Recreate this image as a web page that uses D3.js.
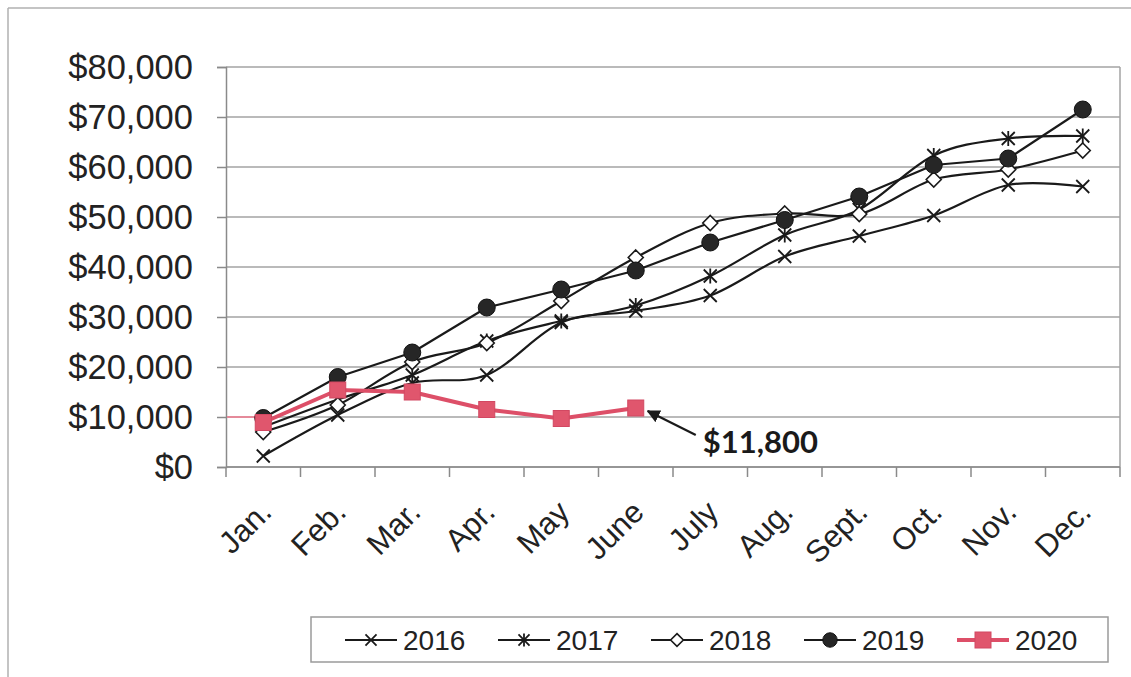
<!DOCTYPE html>
<html>
<head>
<meta charset="utf-8">
<script src="https://cdn.jsdelivr.net/npm/d3@7"></script>
<style>
  html, body { margin: 0; padding: 0; background: #fff; }
  svg { display: block; }
</style>
</head>
<body>
<svg id="chart" width="1131" height="677"></svg>
<script>
const months = ["Jan.", "Feb.", "Mar.", "Apr.", "May", "June", "July", "Aug.", "Sept.", "Oct.", "Nov.", "Dec."];
const yTicks = [0, 10000, 20000, 30000, 40000, 50000, 60000, 70000, 80000];
const s2016 = [2200, 10400, 16800, 18400, 28900, 31200, 34300, 42100, 46200, 50300, 56400, 56100];
const s2017 = [8000, 13500, 18400, 25200, 29200, 32300, 38200, 46400, 51500, 62300, 65700, 66200];
const s2018 = [7000, 12400, 21000, 24800, 33200, 41900, 48800, 50700, 50600, 57500, 59500, 63300];
const s2019 = [9800, 18000, 22900, 31900, 35500, 39300, 44900, 49400, 54100, 60400, 61700, 71500];
const s2020 = [8900, 15400, 15000, 11500, 9700, 11800];
const seriesNames = ["2016", "2017", "2018", "2019", "2020"];
const annotationText = "$11,800";

const svg = d3.select("#chart");
const W = 1131, H = 677;
const plot = { left: 226, right: 1120, top: 67, bottom: 467 };

const x = d3.scaleBand().domain(months).range([plot.left, plot.right]).padding(0);
const y = d3.scaleLinear().domain([0, 80000]).range([plot.bottom, plot.top]);
const cx = m => x(m) + x.bandwidth() / 2;

const gridColor = "#a3a3a3";
const pink = "#dd4f68";

// outer frame (top and left edges visible)
svg.append("line").attr("x1", 8).attr("x2", W).attr("y1", 8).attr("y2", 8).attr("stroke", "#b0b0b0").attr("stroke-width", 1.5);
svg.append("line").attr("x1", 8).attr("x2", 8).attr("y1", 8).attr("y2", H).attr("stroke", "#b0b0b0").attr("stroke-width", 1.5);

// gridlines
const gGrid = svg.append("g");
gGrid.selectAll("line").data(yTicks).join("line")
  .attr("x1", plot.left).attr("x2", plot.right)
  .attr("y1", d => y(d)).attr("y2", d => y(d))
  .attr("stroke", gridColor).attr("stroke-width", 1.5);
// right border
svg.append("line").attr("x1", plot.right).attr("x2", plot.right).attr("y1", plot.top).attr("y2", plot.bottom)
  .attr("stroke", gridColor).attr("stroke-width", 1.5);

// y axis
const yAxis = d3.axisLeft(y).tickValues(yTicks).tickSize(9).tickPadding(24)
  .tickFormat(d => "$" + d3.format(",")(d));
const gy = svg.append("g").attr("transform", `translate(${plot.left},0)`).call(yAxis);
gy.select(".domain").attr("stroke", "#8a8a8a").attr("stroke-width", 1.5);
gy.selectAll(".tick line").attr("stroke", "#8a8a8a").attr("stroke-width", 1.5);
gy.selectAll(".tick text")
  .attr("font-family", "'Liberation Sans', Arial, sans-serif")
  .attr("font-size", 34.5).attr("fill", "#222");

// x axis (ticks at category boundaries)
const gx = svg.append("g").attr("transform", `translate(0,${plot.bottom})`);
gx.append("line").attr("x1", plot.left).attr("x2", plot.right).attr("stroke", "#8a8a8a").attr("stroke-width", 1.5);
const boundaries = months.map(m => x(m)).concat([plot.right]);
gx.selectAll("line.tk").data(boundaries).join("line").attr("class", "tk")
  .attr("x1", d => d).attr("x2", d => d).attr("y1", 0).attr("y2", 10)
  .attr("stroke", "#8a8a8a").attr("stroke-width", 1.5);
gx.selectAll("text").data(months).join("text")
  .attr("transform", d => `translate(${cx(d) + 10},${47}) rotate(-45)`)
  .attr("text-anchor", "end")
  .attr("font-family", "'Liberation Sans', Arial, sans-serif")
  .attr("font-size", 31).attr("fill", "#222")
  .text(d => d);

// marker drawing helpers
function drawMarker(g, type, px, py, scale = 1) {
  const s = 6.5 * scale;
  if (type === "x" || type === "star") {
    g.append("path").attr("d", `M${px - s},${py - s}L${px + s},${py + s}M${px - s},${py + s}L${px + s},${py - s}`)
      .attr("stroke", "#1a1a1a").attr("stroke-width", 1.8).attr("fill", "none");
    if (type === "star") {
      g.append("path").attr("d", `M${px},${py - s - 1}L${px},${py + s + 1}`)
        .attr("stroke", "#1a1a1a").attr("stroke-width", 1.8);
    }
  } else if (type === "diamond") {
    const d = 7.5 * scale;
    g.append("path").attr("d", `M${px},${py - d}L${px + d},${py}L${px},${py + d}L${px - d},${py}Z`)
      .attr("fill", "#fff").attr("stroke", "#1a1a1a").attr("stroke-width", 1.6);
  } else if (type === "circle") {
    g.append("circle").attr("cx", px).attr("cy", py).attr("r", 8.5 * scale)
      .attr("fill", "#262626").attr("stroke", "#111").attr("stroke-width", 1);
  } else if (type === "square") {
    const d = 8 * scale;
    g.append("rect").attr("x", px - d).attr("y", py - d).attr("width", 2 * d).attr("height", 2 * d)
      .attr("fill", "#e0566d").attr("stroke", "#d24862").attr("stroke-width", 1);
  }
}

const series = [
  { name: seriesNames[0], values: s2016, marker: "x", color: "#1a1a1a", width: 2.2, curve: d3.curveCatmullRom.alpha(0) },
  { name: seriesNames[1], values: s2017, marker: "star", color: "#1a1a1a", width: 2.2, curve: d3.curveCatmullRom.alpha(0) },
  { name: seriesNames[2], values: s2018, marker: "diamond", color: "#1a1a1a", width: 2.2, curve: d3.curveCatmullRom.alpha(0) },
  { name: seriesNames[3], values: s2019, marker: "circle", color: "#1a1a1a", width: 2.2, curve: d3.curveLinear },
  { name: seriesNames[4], values: s2020, marker: "square", color: pink, width: 4, curve: d3.curveLinear }
];

// small pink stub along the $10,000 gridline left of Jan.
svg.append("line").attr("x1", plot.left + 1).attr("x2", cx(months[0]))
  .attr("y1", y(10000)).attr("y2", y(10000))
  .attr("stroke", "#e58a9a").attr("stroke-width", 2);

series.forEach(s => {
  const g = svg.append("g");
  const line = d3.line().x((d, i) => cx(months[i])).y(d => y(d)).curve(s.curve);
  g.append("path").datum(s.values).attr("d", line)
    .attr("fill", "none").attr("stroke", s.color).attr("stroke-width", s.width)
    .attr("stroke-linejoin", "round");
  s.values.forEach((v, i) => drawMarker(g, s.marker, cx(months[i]), y(v)));
});

// annotation arrow + label
const lastIdx = s2020.length - 1;
const tipX = cx(months[lastIdx]) + 12, tipY = y(s2020[lastIdx]) + 3;
const tailX = tipX + 48, tailY = tipY + 24;
const defs = svg.append("defs");
defs.append("marker").attr("id", "arrow").attr("viewBox", "0 0 10 10")
  .attr("refX", 9).attr("refY", 5).attr("markerWidth", 6).attr("markerHeight", 6)
  .attr("orient", "auto-start-reverse")
  .append("path").attr("d", "M0,0L10,5L0,10Z").attr("fill", "#1a1a1a");
svg.append("line").attr("x1", tailX).attr("y1", tailY).attr("x2", tipX).attr("y2", tipY)
  .attr("stroke", "#1a1a1a").attr("stroke-width", 2.2).attr("marker-end", "url(#arrow)");
svg.append("text").attr("x", tailX + 7).attr("y", tailY + 18)
  .attr("font-family", "Lato, 'Open Sans', sans-serif").attr("font-weight", 700)
  .attr("font-size", 31).attr("fill", "#1a1a1a").text(annotationText);

// legend
const lg = svg.append("g");
lg.append("rect").attr("x", 311).attr("y", 617).attr("width", 797).attr("height", 45)
  .attr("fill", "#fff").attr("stroke", "#9a9a9a").attr("stroke-width", 1.5);
const legendX = d3.scalePoint().domain(seriesNames).range([345, 957]);
series.forEach(s => {
  const x0 = legendX(s.name), ly = 640;
  const g = lg.append("g");
  g.append("line").attr("x1", x0).attr("x2", x0 + 52).attr("y1", ly).attr("y2", ly)
    .attr("stroke", s.color).attr("stroke-width", s.width);
  drawMarker(g, s.marker, x0 + 26, ly, s.marker === "square" ? 1 : 0.85);
  g.append("text").attr("x", x0 + 58).attr("y", ly).attr("dy", "0.36em")
    .attr("font-family", "'Liberation Sans', Arial, sans-serif").attr("font-size", 28)
    .attr("fill", "#222").text(s.name);
});
</script>
</body>
</html>
